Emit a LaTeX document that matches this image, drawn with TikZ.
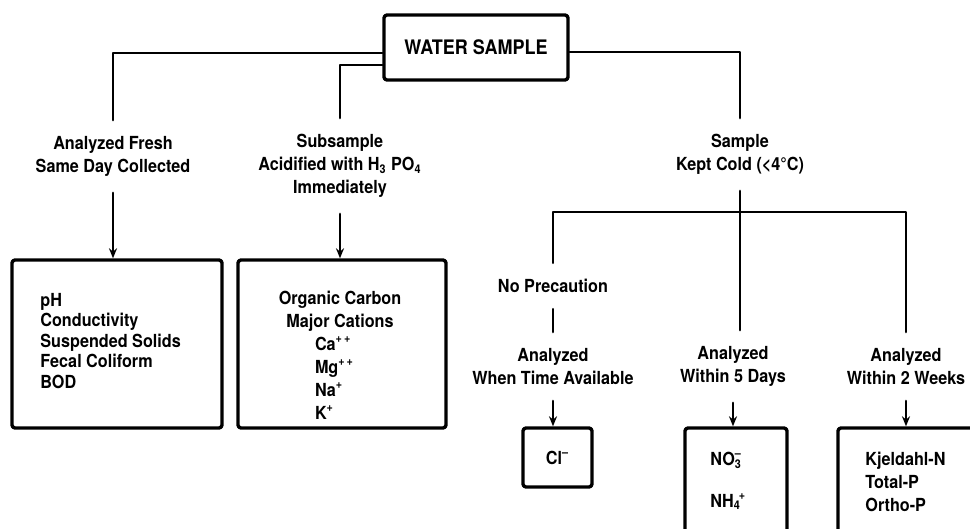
\documentclass[tikz,border=0pt]{standalone}
\usepackage{fontspec}
\setmainfont{TeX Gyre Heros}[FakeStretch=0.9]
\usetikzlibrary{arrows.meta}
\newcommand\ionbox[1]{\makebox[25pt][l]{#1}}
\begin{document}
\begin{tikzpicture}[x=0.5pt,y=-0.5pt,line cap=round,line join=round,
		font=\bfseries\fontsize{9}{11.5}\selectfont]
	\tikzset{khung/.style={draw,line width=1.7pt,rounded corners=1.5pt,inner sep=0pt},
		nhan/.style={align=center,inner xsep=0pt,inner ysep=8pt},
		lien/.style={line width=1.4pt},
		mui/.style={line width=1.4pt,-{Stealth[length=5pt,width=4pt]}}}
	\useasboundingbox (0,0) rectangle (970,529);
	\node[khung,minimum width=92pt,minimum height=32.5pt,font=\bfseries\fontsize{10}{12}\selectfont] (water) at (476,47.5) {WATER SAMPLE};
	\node[nhan] (fresh) at (113,156.5) {Analyzed Fresh\\Same Day Collected};
	\node[nhan] (subs) at (340,166) {Subsample\\Acidified with H\textsubscript{3} PO\textsubscript{4}\\Immediately};
	\node[nhan] (cold) at (740,154.5) {Sample\\Kept Cold (<4°C)};
	\node[nhan] (nopre) at (553,286) {No Precaution};
	\node[nhan] (avail) at (553,366.5) {Analyzed\\When Time Available};
	\node[nhan] (fivedy) at (733,366.5) {Analyzed\\Within 5 Days};
	\node[nhan] (twowk) at (906,366.5) {Analyzed\\Within 2 Weeks};
	\node[khung,minimum width=105pt,minimum height=84pt] (fbox) at (117,344) {};
	\node[khung,minimum width=104pt,minimum height=84pt] (sbox) at (342,344) {};
	\node[khung,minimum width=34.5pt,minimum height=29.5pt] (clbox) at (557.5,457.5) {Cl\textsuperscript{--}};
	\node[khung,minimum width=51pt,minimum height=58.5pt] (nbox) at (736,486.5) {};
	\node[khung,minimum width=81pt,minimum height=58.5pt] (kbox) at (919,486.5) {};
	\node[align=left,anchor=west,inner sep=0pt,font=\bfseries\fontsize{9}{10.25}\selectfont] (flist) at (40,341)
		{pH\\Conductivity\\Suspended Solids\\Fecal Coliform\\BOD};
	\node[align=center,inner sep=0pt] (slist) at (340,355)
		{Organic Carbon\\Major Cations\\\ionbox{Ca\textsuperscript{+\,+}}\\\ionbox{Mg\textsuperscript{+\,+}}\\\ionbox{Na\textsuperscript{+}}\\\ionbox{K\textsuperscript{+}}};
	\node[align=left,anchor=west,inner sep=0pt] (nlist) at (710,481)
		{NO\textsubscript{3}\llap{\textsuperscript{--}}\\[9.5pt]NH\textsubscript{4}\kern-1pt\textsuperscript{+}};
	\node[align=left,anchor=west,inner sep=0pt] (klist) at (865,481.5) {Kjeldahl-N\\Total-P\\Ortho-P};
	\draw[lien] ([yshift=-2.75pt]water.west) -| (fresh);
	\draw[lien] ([yshift=-8.75pt]water.west) -| (subs);
	\draw[lien] ([yshift=-2.25pt]water.east) -| (cold);
	\coordinate (re) at (740,212);
	\draw[lien] (cold) -- (re);
	\draw[lien] (nopre) |- (re) -| (twowk);
	\draw[lien] (re) -- (re |- fivedy.north);
	\draw[lien] (nopre) -- (avail);
	\draw[mui] (fresh) -- (fresh |- fbox.north);
	\draw[mui] (subs) -- (subs |- sbox.north);
	\draw[mui] (avail) -- (avail |- clbox.north);
	\draw[mui] (fivedy) -- (fivedy |- nbox.north);
	\draw[mui] (twowk) -- (twowk |- kbox.north);
\end{tikzpicture}
\end{document}
